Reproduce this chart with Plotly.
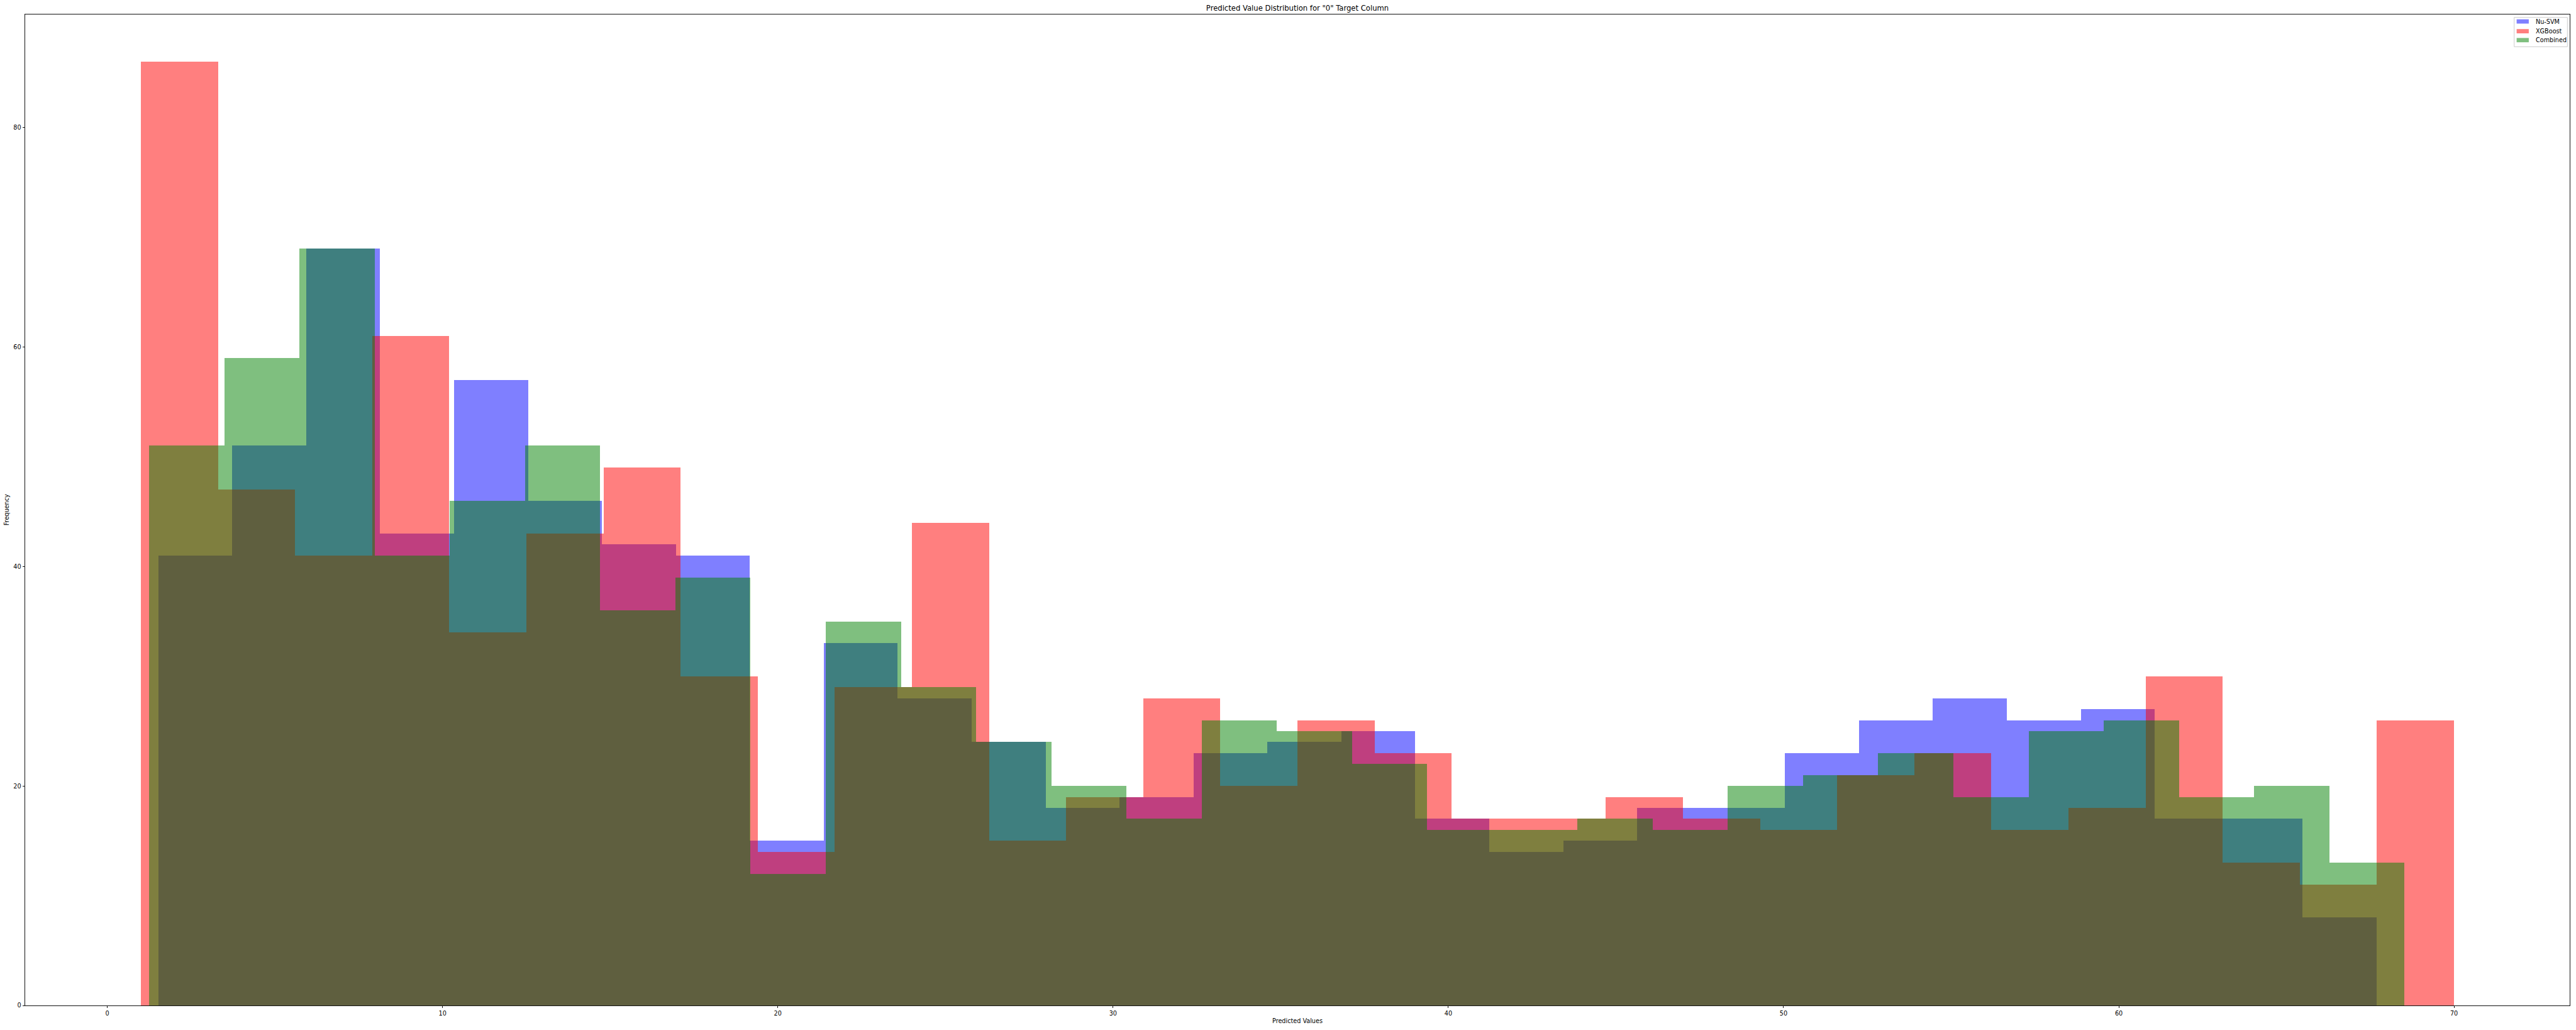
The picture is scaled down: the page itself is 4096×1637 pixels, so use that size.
import numpy as np
import plotly.graph_objects as go

# ---- data (histogram counts, 30 bins each) ----
series_names = ["Nu-SVM", "XGBoost", "Combined"]

nusvm_range = (1.52, 67.69)
nusvm_counts = [41, 51, 69, 43, 57, 46, 42, 41, 15, 33, 28, 24, 18, 19, 23,
                24, 25, 17, 14, 15, 18, 18, 23, 26, 28, 26, 27, 17, 17, 8]

xgb_range = (1.0, 70.0)
xgb_counts = [86, 47, 41, 61, 34, 43, 49, 30, 14, 29, 44, 15, 19, 28, 20,
              26, 23, 17, 17, 19, 17, 16, 21, 23, 16, 18, 30, 13, 11, 26]

comb_range = (1.25, 68.52)
comb_counts = [51, 59, 69, 41, 46, 51, 36, 39, 12, 35, 29, 24, 20, 17, 26,
               25, 22, 16, 16, 17, 16, 20, 21, 23, 19, 25, 26, 19, 20, 13]

x_ticks = [0, 10, 20, 30, 40, 50, 60, 70]
y_ticks = [0, 20, 40, 60, 80]

title_text = 'Predicted Value Distribution for "0" Target Column'
x_label = "Predicted Values"
y_label = "Frequency"

colors = ["rgba(0,0,255,0.5)", "rgba(255,0,0,0.5)", "rgba(0,128,0,0.5)"]

# ---- figure geometry (scaled 0.967 from 4233x1692) ----
W, H = 4096, 1637
ML, MR, MT, MB = 39.6, 9.9, 22.7, 38.5
PW = W - ML - MR
PH = H - MT - MB
FONT = "DejaVu Sans"
FS = 9.67


def px_x(p):
    return (p - ML) / PW


def px_y(p):
    return 1 - (p - MT) / PH


fig = go.Figure()
for name, rng, counts, col in zip(series_names,
                                  [nusvm_range, xgb_range, comb_range],
                                  [nusvm_counts, xgb_counts, comb_counts],
                                  colors):
    edges = np.linspace(rng[0], rng[1], len(counts) + 1)
    widths = np.diff(edges)
    fig.add_trace(go.Bar(
        x=edges[:-1], y=counts, width=widths, offset=0,
        name=name, marker=dict(color=col, line=dict(width=0)),
        hoverinfo="x+y+name", showlegend=False,
    ))

axis_common = dict(
    showgrid=False, zeroline=False, showline=True, mirror=True,
    linecolor="#111111", linewidth=1, ticks="outside", ticklen=3.4,
    tickwidth=1, tickcolor="#111111",
    tickfont=dict(family=FONT, size=FS, color="#000000"),
)

# ---- legend drawn as matplotlib-style box (decoration) ----
shapes = []
annotations = []
box_l, box_r, box_t, box_b = 3997.8, 4082.4, 27.4, 74.0
shapes.append(dict(type="rect", xref="paper", yref="paper",
                   x0=px_x(box_l), x1=px_x(box_r), y0=px_y(box_b), y1=px_y(box_t),
                   fillcolor="rgba(255,255,255,0.8)",
                   line=dict(color="#cccccc", width=1), layer="above"))
entry_y = [33.8, 49.3, 63.5]
for name, col, cy in zip(series_names, colors, entry_y):
    shapes.append(dict(type="rect", xref="paper", yref="paper",
                       x0=px_x(4001.7), x1=px_x(4021.0),
                       y0=px_y(cy + 3.4), y1=px_y(cy - 3.4),
                       fillcolor=col, line=dict(width=0), layer="above"))
    annotations.append(dict(text=name, xref="paper", yref="paper",
                            x=px_x(4029.8), y=px_y(cy), xanchor="left",
                            yanchor="middle", showarrow=False,
                            font=dict(family=FONT, size=FS, color="#000000")))

annotations += [
    dict(text=x_label, xref="paper", yref="paper", x=0.5,
         y=-24.2 / PH, xanchor="center", yanchor="middle",
         showarrow=False, font=dict(family=FONT, size=FS, color="#000000")),
    dict(text=y_label, xref="paper", yref="paper",
         x=-(ML - 10.3) / PW, y=0.5, xanchor="center", yanchor="middle",
         textangle=-90, showarrow=False,
         font=dict(family=FONT, size=FS, color="#000000")),
]

fig.update_layout(
    width=W, height=H,
    margin=dict(l=ML, r=MR, t=MT, b=MB, pad=0),
    paper_bgcolor="white", plot_bgcolor="white",
    barmode="overlay", bargap=0,
    font=dict(family=FONT, size=FS, color="#000000"),
    xaxis=dict(range=[-2.45, 73.45], tickvals=x_ticks,
               ticktext=[str(v) for v in x_ticks], **axis_common),
    yaxis=dict(range=[0, 90.3], tickvals=y_ticks,
               ticktext=[str(v) for v in y_ticks], **axis_common),
    title=dict(text=title_text, x=0.5, xref="paper", xanchor="center",
               y=1 - 12.5 / H, yref="container", yanchor="middle",
               font=dict(family=FONT, size=11.6, color="#000000")),
    showlegend=False,
    shapes=shapes,
    annotations=annotations,
)

fig.write_html("out.html")
